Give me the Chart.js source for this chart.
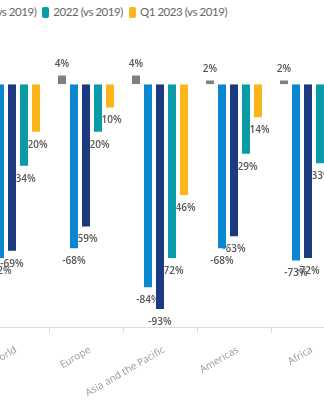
<!DOCTYPE html>
<html>
<head>
<meta charset="utf-8">
<script src="https://cdn.jsdelivr.net/npm/chart.js@4"></script>
<style>
  html, body { margin: 0; padding: 0; background: #fff; }
  #wrap { position: relative; width: 324px; height: 400px; overflow: hidden; }
  #legend {
    position: absolute; right: 97px; top: 5px;
    display: flex; white-space: nowrap;
    font: 11.5px Lato, sans-serif; letter-spacing: -0.45px; color: #666; line-height: 14px;
  }
  .item { display: flex; align-items: center; margin-left: 6px; }
  .box { width: 7px; height: 11px; border-radius: 2px; margin-right: 4px; }
  #box { position: absolute; left: -25px; top: 0; width: 370px; height: 400px; }
</style>
</head>
<body>
<div id="wrap">
  <div id="legend"></div>
  <div id="box"><canvas id="chart"></canvas></div>
</div>
<script>
const regions = ['World', 'Europe', 'Asia and the Pacific', 'Americas', 'Africa'];
const seriesNames = ['2019 (vs 2018)', '2020 (vs 2019)', '2021 (vs 2019)', '2022 (vs 2019)', 'Q1 2023 (vs 2019)'];
const seriesColors = ['#808080', '#0a87d0', '#1c3a80', '#0a9ba8', '#fbb41a'];

const y2019 = [4, 4, 4, 2, 2];
const y2020 = [-72, -68, -84, -68, -73];
const y2021 = [-69, -59, -93, -63, -72];
const y2022 = [-34, -20, -72, -29, -33];
const q12023 = [-20, -10, -46, -14, -12];
const seriesValues = [y2019, y2020, y2021, y2022, q12023];

document.addEventListener('DOMContentLoaded', function() {
    buildLegend();
    renderChart();
});

function buildLegend() {
    const legend = document.getElementById('legend');
    seriesNames.forEach((name, i) => {
        const item = document.createElement('div');
        item.className = 'item';
        item.innerHTML = '<span class="box" style="background:' + seriesColors[i] + '"></span>' + name;
        legend.appendChild(item);
    });
}

// labels go under the bars, like in the original
const valueLabels = {
    id: 'valueLabels',
    beforeDatasetsDraw(chart) {
        const ctx = chart.ctx;
        ctx.save();
        ctx.font = '600 10px "Open Sans"';
        ctx.fillStyle = '#555';
        ctx.textAlign = 'center';
        ctx.textBaseline = 'middle';
        chart.data.datasets.forEach((ds, i) => {
            chart.getDatasetMeta(i).data.forEach((bar, j) => {
                const v = ds.data[j];
                const y = v < 0 ? bar.y + 12 : bar.y - 10;
                ctx.fillText(v + '%', bar.x, y);
            });
        });
        ctx.restore();
    }
};

function renderChart() {
    const ctx = document.getElementById('chart').getContext('2d');
    new Chart(ctx, {
        type: 'bar',
        data: {
            labels: regions,
            datasets: seriesValues.map((vals, i) => ({
                label: seriesNames[i],
                data: vals,
                backgroundColor: seriesColors[i],
                borderColor: 'rgba(255,255,255,0.5)',
                borderWidth: 1,
                categoryPercentage: 0.81,
                barPercentage: 0.833
            }))
        },
        options: {
            responsive: true,
            maintainAspectRatio: false,
            animation: false,
            layout: { padding: { top: 60, left: 0, right: 0, bottom: 0 } },
            plugins: {
                legend: { display: false },
                tooltip: { enabled: false }
            },
            scales: {
                x: {
                    grid: { drawOnChartArea: false, tickLength: 6, color: '#ddd' },
                    border: { color: '#ddd' },
                    ticks: {
                        color: '#999',
                        font: { family: 'Open Sans', size: 10 },
                        minRotation: 30,
                        maxRotation: 30,
                        padding: 11,
                        labelOffset: 4
                    },
                    afterFit: function(scale) { scale.height = 73; }
                },
                y: {
                    display: false,
                    min: -100,
                    max: 10
                }
            }
        },
        plugins: [valueLabels]
    });
}
</script>
</body>
</html>
